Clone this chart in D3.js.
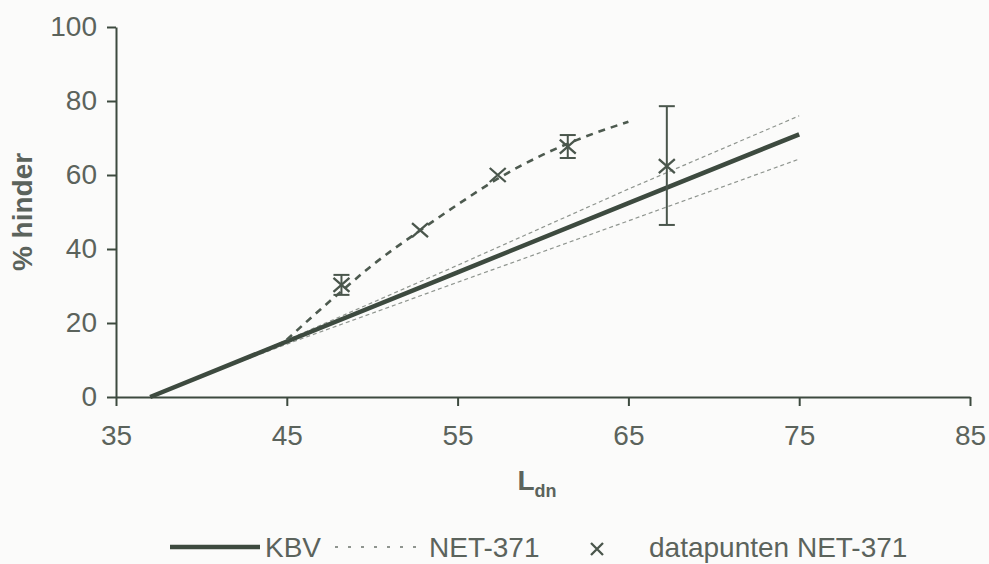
<!DOCTYPE html>
<html>
<head>
<meta charset="utf-8">
<script src="https://cdn.jsdelivr.net/npm/d3@7/dist/d3.min.js"></script>
<style>
  html, body { margin: 0; padding: 0; background: #fbfbfa; }
  svg { display: block; }
  text { font-family: "Liberation Sans", Arial, sans-serif; fill: #5b635c; }
</style>
</head>
<body>
<svg id="chart" width="989" height="564"></svg>
<script>
// Axis ticks
const xTicks = [35, 45, 55, 65, 75, 85];
const yTicks = [0, 20, 40, 60, 80, 100];

// KBV dose-effect relation (solid)
const kbvX = [37, 45, 55, 65, 75];
const kbvY = [0, 15, 33.7, 52.4, 71];

// NET-371 confidence bounds (thin dashed)
const boundX = [40, 45, 55, 65, 75];
const boundUpperY = [5.6, 15.4, 35.6, 56.2, 76];
const boundLowerY = [5.6, 14.3, 31.0, 47.6, 64.3];

// NET-371 fitted curve (dashed)
const netX = [45, 47, 48.2, 50, 52.8, 55, 57.35, 60, 62, 65];
const netY = [15.5, 23.8, 28.6, 35.6, 45, 52, 59, 65.5, 69.5, 74.4];

// Data points NET-371 with error bars (null = no bar)
const ptX = [48.2, 52.8, 57.35, 61.45, 67.25];
const ptY = [30.3, 45.1, 60.0, 67.7, 62.4];
const ptLo = [27.6, null, null, 64.6, 46.5];
const ptHi = [33.0, null, null, 70.8, 78.6];

const ink = "#3d4a3f";
const svg = d3.select("#chart");

const x = d3.scaleLinear().domain([35, 85]).range([116, 970]);
const y = d3.scaleLinear().domain([0, 100]).range([397, 27]);

// Axes
const xAxis = svg.append("g").attr("transform", `translate(0,${y(0)})`)
  .call(d3.axisBottom(x).tickValues(xTicks).tickSize(9).tickPadding(19).tickSizeOuter(0));
const yAxis = svg.append("g").attr("transform", `translate(${x(35)},0)`)
  .call(d3.axisLeft(y).tickValues(yTicks).tickSize(9).tickPadding(10).tickSizeOuter(0));
[xAxis, yAxis].forEach(g => {
  g.select(".domain").attr("stroke", ink).attr("stroke-width", 2);
  g.selectAll(".tick line").attr("stroke", ink).attr("stroke-width", 2);
  g.selectAll(".tick text").attr("font-size", 28).attr("fill", "#5b635c")
    .style("font-family", "'Liberation Sans', Arial, sans-serif");
});

// Axis titles
const xt = svg.append("text").attr("x", 537).attr("y", 490)
  .attr("text-anchor", "middle").attr("font-size", 28).attr("font-weight", "bold");
xt.append("tspan").text("L");
xt.append("tspan").attr("font-size", 18).attr("dy", 7).text("dn");

svg.append("text")
  .attr("transform", `translate(32,212) rotate(-90)`)
  .attr("text-anchor", "middle").attr("font-size", 28).attr("font-weight", "bold")
  .text("% hinder");

const line = (xs, ys, curve) => d3.line()
  .x((d, i) => x(xs[i])).y(d => y(d)).curve(curve || d3.curveLinear)(ys);

// Thin dashed confidence bounds
[boundUpperY, boundLowerY].forEach(ys => {
  svg.append("path").attr("d", line(boundX, ys))
    .attr("fill", "none").attr("stroke", "#8f958f").attr("stroke-width", 1.2)
    .attr("stroke-dasharray", "4,3");
});

// KBV solid line
svg.append("path").attr("d", line(kbvX, kbvY))
  .attr("fill", "none").attr("stroke", ink).attr("stroke-width", 4.5)
  .attr("stroke-linecap", "butt");

// NET-371 dashed curve
svg.append("path").attr("d", line(netX, netY, d3.curveMonotoneX))
  .attr("fill", "none").attr("stroke", "#4d5a4f").attr("stroke-width", 2.6)
  .attr("stroke-dasharray", "7,6");

// Error bars
const capW = 8;
ptX.forEach((px, i) => {
  if (ptLo[i] == null) return;
  const g = svg.append("g").attr("stroke", "#4a564c").attr("stroke-width", 2).attr("fill", "none");
  g.append("line").attr("x1", x(px)).attr("x2", x(px)).attr("y1", y(ptLo[i])).attr("y2", y(ptHi[i]));
  g.append("line").attr("x1", x(px) - capW).attr("x2", x(px) + capW).attr("y1", y(ptLo[i])).attr("y2", y(ptLo[i]));
  g.append("line").attr("x1", x(px) - capW).attr("x2", x(px) + capW).attr("y1", y(ptHi[i])).attr("y2", y(ptHi[i]));
});

// Cross markers
const cross = (g, cx, cy, sx, sy) => {
  g.append("path").attr("d", `M${cx - sx},${cy - sy}L${cx + sx},${cy + sy}M${cx - sx},${cy + sy}L${cx + sx},${cy - sy}`)
    .attr("fill", "none").attr("stroke", "#4a564c").attr("stroke-width", 2.3);
};
const markers = svg.append("g");
ptX.forEach((px, i) => cross(markers, x(px), y(ptY[i]), 8, 7));

// Legend
const lg = svg.append("g");
const ly = 547;
lg.append("line").attr("x1", 170).attr("x2", 260).attr("y1", ly).attr("y2", ly)
  .attr("stroke", ink).attr("stroke-width", 4.5);
lg.append("text").attr("x", 265).attr("y", ly + 10).attr("font-size", 28).text("KBV");
lg.append("line").attr("x1", 335).attr("x2", 418).attr("y1", ly).attr("y2", ly)
  .attr("stroke", "#8f958f").attr("stroke-width", 2).attr("stroke-dasharray", "3,10");
lg.append("text").attr("x", 429).attr("y", ly + 10).attr("font-size", 28).text("NET-371");
cross(lg, 597, ly + 2, 6, 6);
lg.append("text").attr("x", 649).attr("y", ly + 10).attr("font-size", 28).text("datapunten NET-371");
</script>
</body>
</html>
